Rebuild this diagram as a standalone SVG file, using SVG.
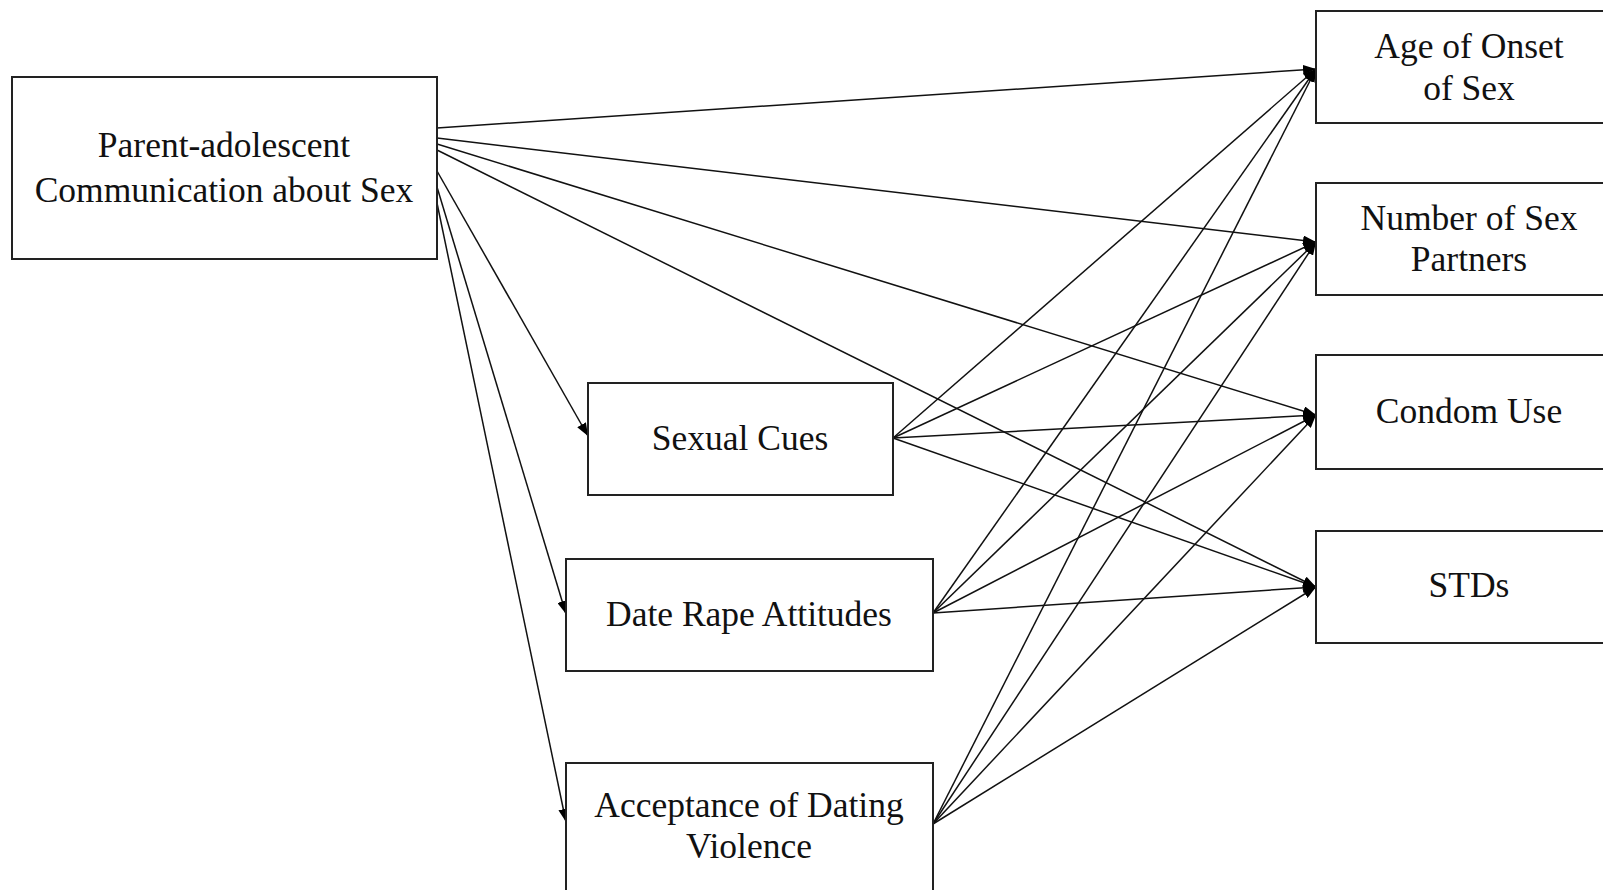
<svg xmlns="http://www.w3.org/2000/svg" width="1603" height="890" viewBox="0 0 1603 890">
<style>
.box{fill:#fff;stroke:#222;stroke-width:2}
.lbl{font-family:"Liberation Serif","Times New Roman",serif;font-size:35.5px;fill:#111;text-anchor:middle}
.edge{stroke:#111;stroke-width:1.5;fill:none;marker-end:url(#arr)}
</style>
<defs>
<marker id="arr" markerUnits="userSpaceOnUse" markerWidth="14" markerHeight="10" refX="13" refY="5" orient="auto">
<path d="M0,0 L13,5 L0,10 Z" fill="#000"/>
</marker>
</defs>
<rect width="1603" height="890" fill="#fff"/>
<g id="connectors">
<line class="edge" x1="437" y1="128" x2="1316" y2="69"/>
<line class="edge" x1="437" y1="138" x2="1316" y2="242"/>
<line class="edge" x1="437" y1="144" x2="1316" y2="415"/>
<line class="edge" x1="437" y1="150" x2="1316" y2="587"/>
<line class="edge" x1="437" y1="171" x2="588" y2="436"/>
<line class="edge" x1="437" y1="187" x2="566" y2="614"/>
<line class="edge" x1="437" y1="203" x2="566" y2="822"/>
<line class="edge" x1="893" y1="438" x2="1316" y2="69"/>
<line class="edge" x1="893" y1="438" x2="1316" y2="242"/>
<line class="edge" x1="893" y1="438" x2="1316" y2="415"/>
<line class="edge" x1="893" y1="438" x2="1316" y2="587"/>
<line class="edge" x1="933" y1="613" x2="1316" y2="69"/>
<line class="edge" x1="933" y1="613" x2="1316" y2="242"/>
<line class="edge" x1="933" y1="613" x2="1316" y2="415"/>
<line class="edge" x1="933" y1="613" x2="1316" y2="587"/>
<line class="edge" x1="933" y1="824" x2="1316" y2="69"/>
<line class="edge" x1="933" y1="824" x2="1316" y2="242"/>
<line class="edge" x1="933" y1="824" x2="1316" y2="415"/>
<line class="edge" x1="933" y1="824" x2="1316" y2="587"/>
</g>
<g id="parent">
<rect class="box" x="12" y="77" width="425" height="182"/>
<text class="lbl" x="224" y="157">Parent-adolescent</text>
<text class="lbl" x="224" y="202">Communication about Sex</text>
</g>
<g id="sexual-cues">
<rect class="box" x="588" y="383" width="305" height="112"/>
<text class="lbl" x="740" y="450">Sexual Cues</text>
</g>
<g id="date-rape">
<rect class="box" x="566" y="559" width="367" height="112"/>
<text class="lbl" x="749" y="626">Date Rape Attitudes</text>
</g>
<g id="dating-violence">
<rect class="box" x="566" y="763" width="367" height="140"/>
<text class="lbl" x="749" y="817">Acceptance of Dating</text>
<text class="lbl" x="749" y="858">Violence</text>
</g>
<g id="age-onset">
<rect class="box" x="1316" y="11" width="306" height="112"/>
<text class="lbl" x="1469" y="58">Age of Onset</text>
<text class="lbl" x="1469" y="100">of Sex</text>
</g>
<g id="num-partners">
<rect class="box" x="1316" y="183" width="306" height="112"/>
<text class="lbl" x="1469" y="230">Number of Sex</text>
<text class="lbl" x="1469" y="271">Partners</text>
</g>
<g id="condom-use">
<rect class="box" x="1316" y="355" width="306" height="114"/>
<text class="lbl" x="1469" y="423">Condom Use</text>
</g>
<g id="stds">
<rect class="box" x="1316" y="531" width="306" height="112"/>
<text class="lbl" x="1469" y="597">STDs</text>
</g>
</svg>
